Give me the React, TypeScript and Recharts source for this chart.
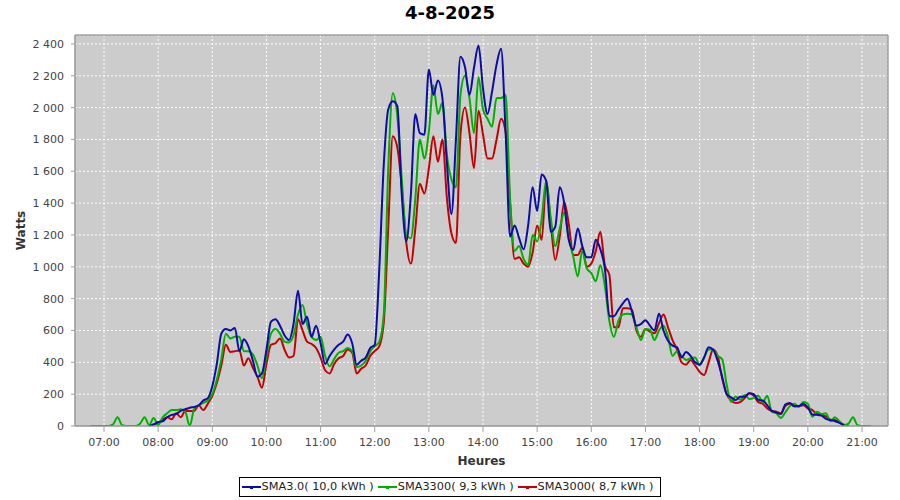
import React from 'react';
import { LineChart, Line, XAxis, YAxis, CartesianGrid, Legend, ReferenceArea } from 'recharts';

// 5 minute samples
const times = ('06:45 06:50 06:55 07:00 07:05 07:10 07:15 07:20 07:25 07:30 07:35 07:40 07:45 07:50 07:55 ' +
  '08:00 08:05 08:10 08:15 08:20 08:25 08:30 08:35 08:40 08:45 08:50 08:55 ' +
  '09:00 09:05 09:10 09:15 09:20 09:25 09:30 09:35 09:40 09:45 09:50 09:55 ' +
  '10:00 10:05 10:10 10:15 10:20 10:25 10:30 10:35 10:40 10:45 10:50 10:55 ' +
  '11:00 11:05 11:10 11:15 11:20 11:25 11:30 11:35 11:40 11:45 11:50 11:55 ' +
  '12:00 12:05 12:10 12:15 12:20 12:25 12:30 12:35 12:40 12:45 12:50 12:55 ' +
  '13:00 13:05 13:10 13:15 13:20 13:25 13:30 13:35 13:40 13:45 13:50 13:55 ' +
  '14:00 14:05 14:10 14:15 14:20 14:25 14:30 14:35 14:40 14:45 14:50 14:55 ' +
  '15:00 15:05 15:10 15:15 15:20 15:25 15:30 15:35 15:40 15:45 15:50 15:55 ' +
  '16:00 16:05 16:10 16:15 16:20 16:25 16:30 16:35 16:40 16:45 16:50 16:55 ' +
  '17:00 17:05 17:10 17:15 17:20 17:25 17:30 17:35 17:40 17:45 17:50 17:55 ' +
  '18:00 18:05 18:10 18:15 18:20 18:25 18:30 18:35 18:40 18:45 18:50 18:55 ' +
  '19:00 19:05 19:10 19:15 19:20 19:25 19:30 19:35 19:40 19:45 19:50 19:55 ' +
  '20:00 20:05 20:10 20:15 20:20 20:25 20:30 20:35 20:40 20:45 20:50 20:55 ' +
  '21:00 21:05 21:10').split(' ');

const _ = null;

const sma30 = [
  _, _, _, _, _, _, _, _, _, _, _, _, _, 0, 10,
  25, 30, 55, 70, 75, 95, 105, 115, 120, 130, 160, 175,
  250, 390, 580, 610, 600, 615, 470, 545, 500, 410, 310, 330,
  480, 655, 670, 630, 570, 540, 640, 850, 640, 687, 560, 630,
  520, 390, 440, 480, 510, 530, 575, 520, 385, 410, 430, 490,
  510, 980, 1640, 1990, 2040, 2010, 1450, 1160, 1450, 1960, 1840, 1830,
  2240, 2080, 2170, 2060, 1650, 1330, 1800, 2320, 2255, 2080, 2250, 2390,
  2120, 1960, 2100, 2270, 2370, 1850, 1190, 1260, 1180, 1110, 1260, 1500,
  1350, 1580, 1540, 1220, 1250, 1500, 1400, 1170, 1106, 1240, 1130, 1060,
  1060, 1170, 1110, 990, 690, 690, 730, 770, 800, 720, 630, 640,
  665, 630, 600, 705, 600, 535, 505, 495, 430, 465, 440, 400,
  385, 430, 495, 480, 410, 310, 200, 180, 163, 184, 184, 205,
  200, 165, 160, 130, 95, 85, 75, 135, 145, 125, 125, 140,
  115, 72, 70, 65, 45, 37, 30, 20, 5, _, _, _,
  _, _, _,
];

const sma3300 = [
  0, 0, 0, 0, 0, 10, 55, 5, 0, 0, 0, 15, 55, 5, 50,
  5, 55, 80, 100, 100, 105, 90, 0, 110, 130, 145, 160,
  200, 290, 420, 580, 550, 560, 560, 470, 470, 450, 380, 300,
  440, 580, 610, 580, 530, 525, 570, 700, 760, 640, 560, 540,
  560, 440, 375, 420, 460, 470, 490, 470, 370, 380, 410, 470,
  500, 530, 700, 1620, 2090, 1950, 1550, 1200, 1180, 1430, 1800, 1680,
  1850, 2140, 1960, 2030, 1700, 1550, 1500, 2080, 2200, 2060, 1840, 2190,
  1990, 1930, 1880, 2060, 2060, 2080, 1430, 1100, 1130, 1050, 1012, 1200,
  1160, 1300, 1540, 1310, 1130, 1240, 1340, 1180, 1064, 940, 1100, 990,
  960, 910, 1010, 880, 660, 560, 660, 700, 705, 700, 620, 540,
  610, 605, 540, 600, 630, 560, 440, 470, 440, 415, 425, 430,
  385, 430, 480, 480, 440, 420, 260, 150, 185, 165, 195, 170,
  175, 190, 150, 190, 90, 80, 50, 85, 125, 140, 120, 150,
  140, 58, 90, 75, 80, 30, 55, 30, 5, 15, 55, 5,
  0, 0, 0,
];

const sma3000 = [
  _, _, _, _, _, _, _, _, _, _, _, _, _, 0, 10,
  20, 40, 55, 42, 80, 55, 95, 95, 95, 130, 100, 140,
  190, 270, 380, 510, 465, 470, 475, 380, 425, 365, 310, 240,
  390, 510, 520, 550, 480, 430, 440, 670, 600, 530, 515, 490,
  430, 350, 330, 390, 425, 440, 480, 460, 330, 360, 380, 440,
  470, 500, 650, 1250, 1820, 1750, 1500, 1150, 1020, 1240, 1520, 1460,
  1620, 1820, 1660, 1800, 1430, 1210, 1150, 1830, 2000, 1840, 1620, 1980,
  1830, 1680, 1680, 1800, 1930, 1850, 1400, 1050, 1060, 1020, 1000, 1090,
  1260, 1170, 1530, 1280, 1043, 1190, 1405, 1270, 1074, 1074, 1120, 1000,
  1020, 1100, 1220, 1010, 950, 620, 620, 740, 740, 730, 600, 560,
  610, 593, 582, 645, 700, 620, 540, 480, 400, 385, 415, 380,
  341, 320, 400, 480, 440, 300, 200, 160, 145, 150, 175, 205,
  190, 150, 140, 110, 95, 90, 80, 125, 140, 122, 125, 130,
  111, 100, 75, 70, 60, 40, 38, 25, 8, 0, _, _,
  _, _, _,
];

const hourTicks = [7, 8, 9, 10, 11, 12, 13, 14, 15, 16, 17, 18, 19, 20, 21];
const wattTicks = [0, 200, 400, 600, 800, 1000, 1200, 1400, 1600, 1800, 2000, 2200, 2400];

const series = [
  { key: 'sma30', name: 'SMA3.0( 10,0 kWh )', color: '#0c0ca8' },
  { key: 'sma3300', name: 'SMA3300( 9,3 kWh )', color: '#00b000' },
  { key: 'sma3000', name: 'SMA3000( 8,7 kWh )', color: '#c40000' },
];

const X_MIN = 6.464;
const X_MAX = 21.48;
const Y_MAX = 2456;

const data = times.map((t, i) => {
  const [h, m] = t.split(':').map(Number);
  return { t: h + m / 60, sma30: sma30[i], sma3300: sma3300[i], sma3000: sma3000[i] };
});

const fmtHour = (v: number) => `${String(v).padStart(2, '0')}:00`;
const fmtWatt = (v: number) => {
  const s = String(v);
  return s.length > 3 ? s.slice(0, s.length - 3) + ' ' + s.slice(-3) : s;
};

function LegendBox() {
  return <div style={{ display: 'flex', justifyContent: 'center' }}>
      <div style={{
      display: 'flex',
      alignItems: 'center',
      border: '1px solid #000',
      padding: '2px 3px 3px 2px',
      fontSize: 11.3,
      color: '#222',
      background: '#fff'
    }}>
        {series.map(s => <div key={s.key} style={{ display: 'flex', alignItems: 'center', marginRight: 4 }}>
            <svg width={19} height={8} style={{ marginRight: 1 }}>
              <line x1={0} y1={4} x2={19} y2={4} stroke={s.color} strokeWidth={2} />
              <rect x={8} y={3} width={3} height={3} fill={s.color} />
            </svg>
            <span>{s.name}</span>
          </div>)}
      </div>
    </div>;
}

export default function App() {
  return <div style={{
    position: 'absolute',
    left: 0,
    top: 0,
    width: 900,
    height: 500,
    background: '#fff',
    fontFamily: '"DejaVu Sans", sans-serif'
  }}>
      <div style={{
      position: 'absolute',
      top: 2,
      left: 0,
      width: 900,
      textAlign: 'center',
      fontWeight: 'bold',
      fontSize: 18,
      color: '#000'
    }}>4-8-2025</div>
      <LineChart width={900} height={500} data={data} margin={{
      top: 35,
      right: 12,
      bottom: 30,
      left: 0
    }}>
        <CartesianGrid fill="#cccccc" stroke="#ffffff" strokeDasharray="2 2" />
        <XAxis dataKey="t" type="number" domain={[X_MIN, X_MAX]} ticks={hourTicks} allowDataOverflow tickFormatter={fmtHour} height={44} stroke="#a0a0a0" tickSize={6} tickMargin={6} tick={{
        fill: '#444',
        fontSize: 11
      }} label={{
        value: 'Heures',
        position: 'insideBottom',
        offset: 5,
        style: { fontWeight: 'bold', fontSize: 12, fill: '#333' }
      }} />
        <YAxis type="number" domain={[0, Y_MAX]} ticks={wattTicks} allowDataOverflow tickFormatter={fmtWatt} width={75} stroke="#a0a0a0" tickSize={4} tickMargin={7} tick={{
        fill: '#444',
        fontSize: 11
      }} label={{
        value: 'Watts',
        angle: -90,
        position: 'insideLeft',
        offset: 21,
        style: { textAnchor: 'middle', fontWeight: 'bold', fontSize: 12, fill: '#333' }
      }} />
        <ReferenceArea x1={X_MIN} x2={X_MAX} y1={0} y2={Y_MAX} fill="none" stroke="#7a7a7a" strokeWidth={1} />
        {[...series].reverse().map(s => <Line key={s.key} type="monotone" dataKey={s.key} name={s.name} stroke={s.color} strokeWidth={2} dot={false} activeDot={false} connectNulls={false} isAnimationActive={false} />)}
        <Legend layout="horizontal" verticalAlign="middle" align="center" wrapperStyle={{ top: 477, left: 0, width: 900 }} content={() => <LegendBox />} />
      </LineChart>
    </div>;
}
